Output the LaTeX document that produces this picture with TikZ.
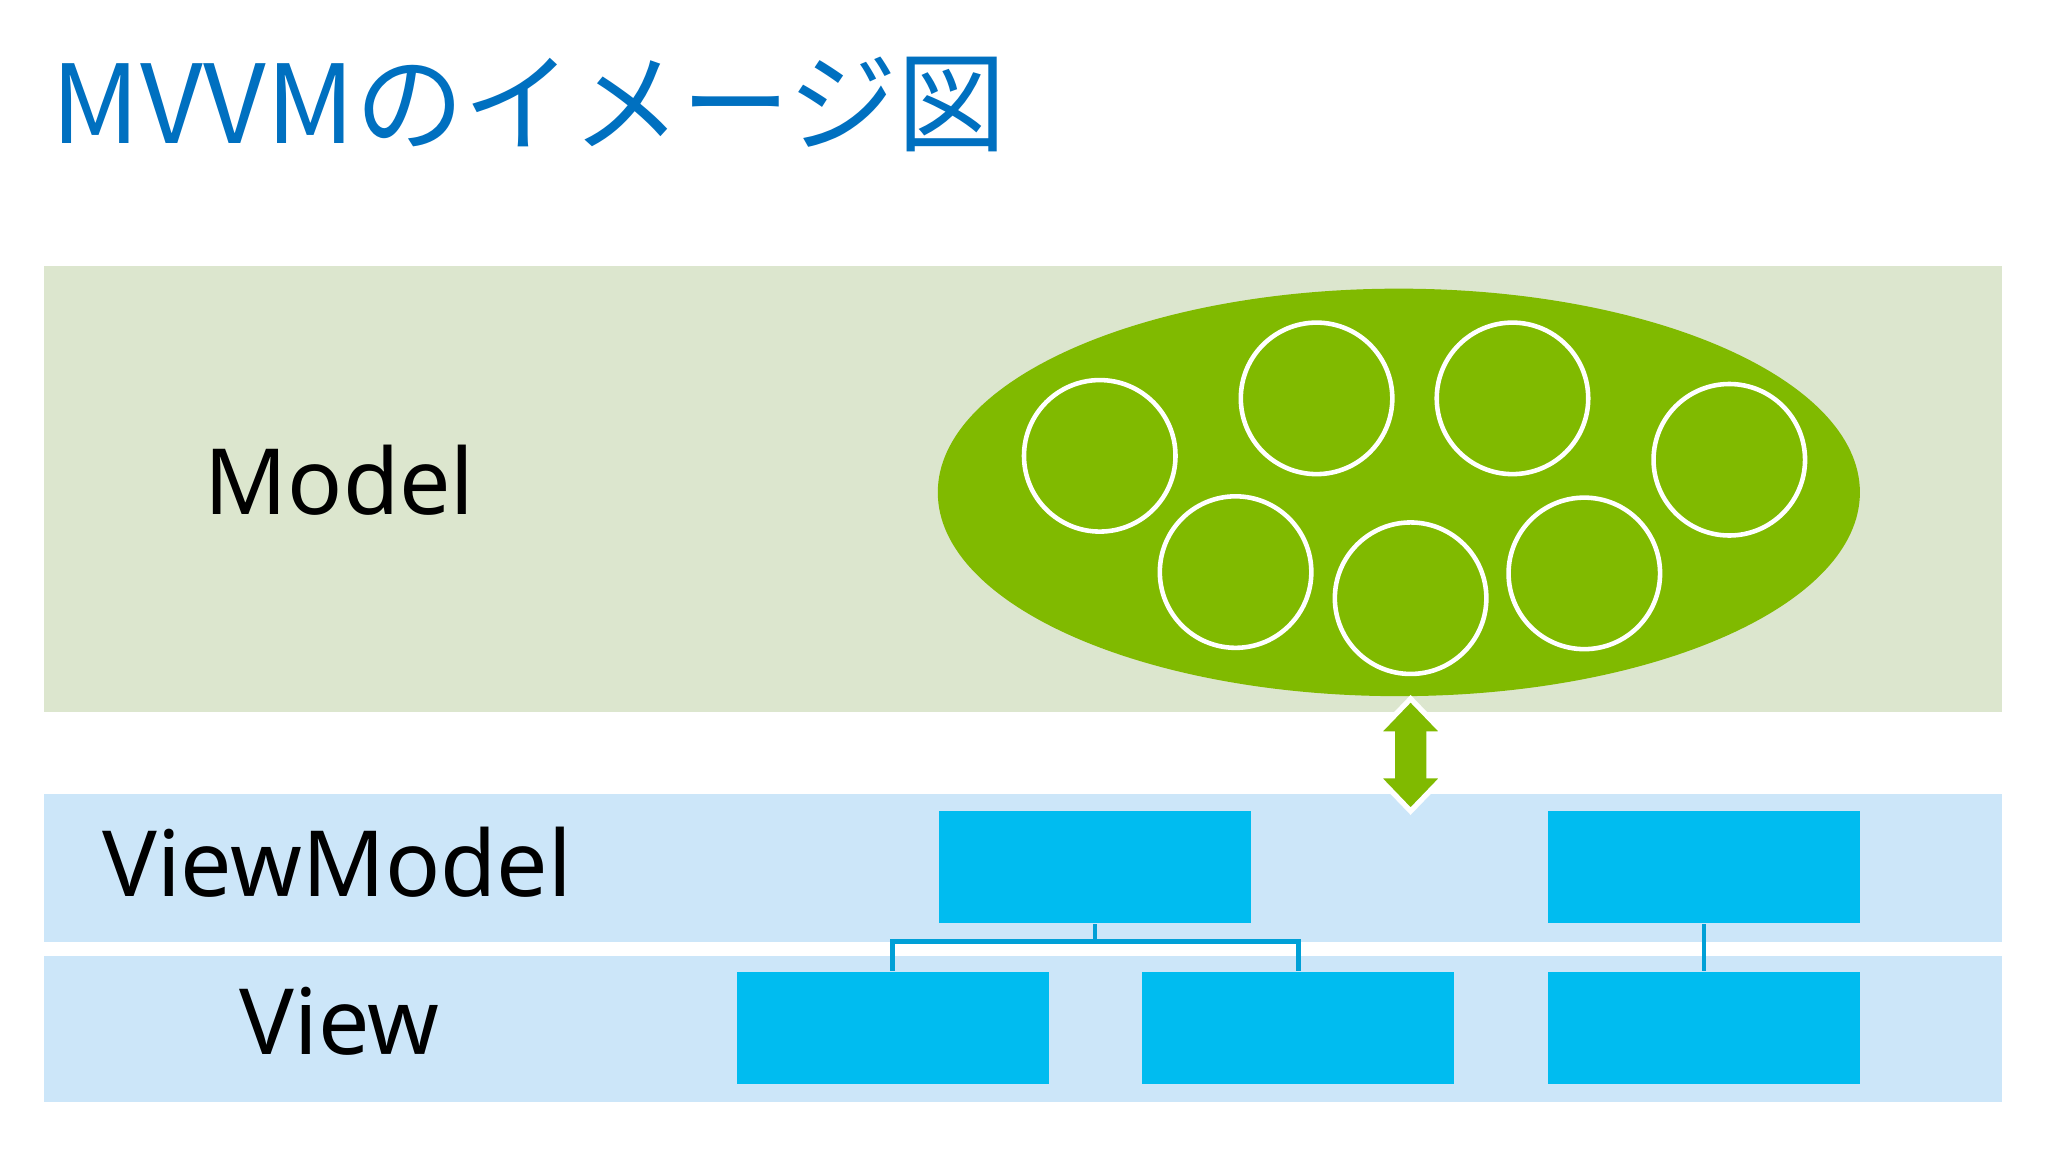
\documentclass[tikz,border=0pt]{standalone}
\usepackage{fontspec}
\usetikzlibrary{shapes.geometric}
\setmainfont{Noto Sans}
\newfontfamily\cjk{Noto Sans CJK JP}
\begin{document}
\begin{tikzpicture}[x=0.01306cm,y=-0.01306cm,
  blk/.style={fill=boxc,draw=none},
  circ/.style={circle,draw=white,line width=1.3pt,fill=modg,minimum size=116*0.01306cm,inner sep=0},
  lbl/.style={font=\fontsize{26}{30}\selectfont\bfseries},
  conn/.style={draw=linec,line width=1.3pt}]
\definecolor{titc}{RGB}{0,112,192}
\definecolor{modbg}{RGB}{220,230,206}
\definecolor{modg}{RGB}{128,186,0}
\definecolor{vbg}{RGB}{204,230,249}
\definecolor{boxc}{RGB}{0,188,240}
\definecolor{linec}{RGB}{0,160,215}
\useasboundingbox (0,0) rectangle (1568,882);
\fill[white] (0,0) rectangle (1568,882);
\node[anchor=west,text=titc,font=\cjk\fontsize{31}{36}\selectfont] (title) at (30,80) {MVVMのイメージ図};
\fill[modbg] (34,204) rectangle (1533,545);
\fill[vbg] (34,608) rectangle (1533,721);
\fill[vbg] (34,732) rectangle (1533,844);
\node[ellipse,fill=modg,minimum width=706*0.01306cm,minimum height=312*0.01306cm,inner sep=0] (ell) at (1071,377) {};
\foreach \n/\x/\y in {a/842/349,b/1008/305,c/1158/305,d/1324/352,e/946/438,f/1080/458,g/1213/439}
  \node[circ] (\n) at (\x,\y) {};
\node[lbl] (model) at (260,368) {Model};
\node[lbl] (vm) at (258,660) {ViewModel};
\node[lbl] (view) at (260,782) {View};
\node[blk,minimum width=239*0.01306cm,minimum height=86*0.01306cm,inner sep=0] (vm1) at (838.5,664) {};
\node[blk,minimum width=239*0.01306cm,minimum height=86*0.01306cm,inner sep=0] (vm2) at (1304.5,664) {};
\node[blk,minimum width=239*0.01306cm,minimum height=86*0.01306cm,inner sep=0] (v1) at (683.5,787) {};
\node[blk,minimum width=239*0.01306cm,minimum height=86*0.01306cm,inner sep=0] (v2) at (994,787) {};
\node[blk,minimum width=239*0.01306cm,minimum height=86*0.01306cm,inner sep=0] (v3) at (1304.5,787) {};
\coordinate (j) at (838.5,721);
\draw[conn] (vm1.south) -- (j) -| (v1.north);
\draw[conn] (j) -| (v2.north);
\draw[conn] (vm2.south) -- (v3.north);
\draw[fill=modg,draw=white,line width=1.5pt,line join=miter]
 (1080,535) -- (1106,562) -- (1094,562) -- (1094,594) -- (1106,594) -- (1080,621)
 -- (1054,594) -- (1066,594) -- (1066,562) -- (1054,562) -- cycle;
\end{tikzpicture}
\end{document}
